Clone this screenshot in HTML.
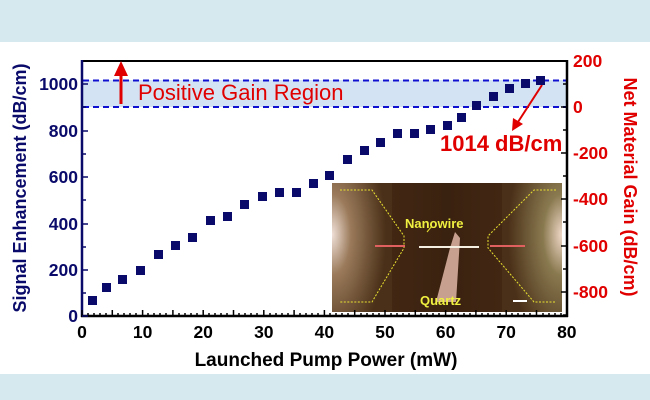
<!DOCTYPE html>
<html><head><meta charset="utf-8"><style>
body{margin:0;width:650px;height:400px;overflow:hidden;background:#fff}
svg{display:block}
text{font-family:"Liberation Sans",Arial,sans-serif;font-weight:bold}
</style></head><body>
<svg width="650" height="400" viewBox="0 0 650 400" xmlns="http://www.w3.org/2000/svg">
<defs>
<radialGradient id="gl" cx="0" cy="0.4" r="0.9"><stop offset="0" stop-color="#f0e0d8"/><stop offset="0.35" stop-color="#9a7a5a"/><stop offset="1" stop-color="#4a3018"/></radialGradient>
<radialGradient id="gr" cx="1" cy="0.4" r="0.9"><stop offset="0" stop-color="#f0d8c8"/><stop offset="0.35" stop-color="#8a7a50"/><stop offset="1" stop-color="#4a3018"/></radialGradient>
<linearGradient id="mid" x1="0" x2="1"><stop offset="0" stop-color="#4a2c16"/><stop offset="0.5" stop-color="#3a2210"/><stop offset="1" stop-color="#4a2c16"/></linearGradient>
</defs>
<rect x="0" y="0" width="650" height="42" fill="#d5e9ef"/>
<rect x="0" y="374" width="650" height="26" fill="#d5e9ef"/>
<rect x="83" y="80" width="484" height="27" fill="#d3e3f3"/>
<line x1="83" y1="80.5" x2="567" y2="80.5" stroke="#1010d0" stroke-width="2" stroke-dasharray="6,4"/>
<line x1="83" y1="107" x2="567" y2="107" stroke="#1010d0" stroke-width="2" stroke-dasharray="6,4"/>
<g>
<rect x="332" y="183" width="230" height="129" fill="url(#mid)"/>
<rect x="332" y="183" width="60" height="129" fill="url(#gl)"/>
<rect x="502" y="183" width="60" height="129" fill="url(#gr)"/>
<polyline points="340,190 372,190 404,236 404,248 372,302 340,302" fill="none" stroke="#e8e030" stroke-width="1" stroke-dasharray="2,1.5"/>
<polyline points="556,190 534,190 488,236 488,248 534,302 556,302" fill="none" stroke="#e8e030" stroke-width="1" stroke-dasharray="2,1.5"/>
<polygon points="436,302 450,248 455,232 460,238 456,302" fill="#c8a090"/>
<line x1="419" y1="247" x2="479" y2="247" stroke="#f4efe0" stroke-width="2"/>
<line x1="375" y1="246" x2="405" y2="246" stroke="#e06060" stroke-width="2"/>
<line x1="490" y1="246" x2="525" y2="246" stroke="#e06060" stroke-width="2"/>
<line x1="427" y1="232" x2="432" y2="226" stroke="#e8e030" stroke-width="1"/>
<text x="405" y="228" font-size="13" fill="#f0f040">Nanowire</text>
<text x="420" y="305" font-size="13" fill="#f0f040">Quartz</text>
<line x1="513" y1="301" x2="527" y2="301" stroke="#fff" stroke-width="2"/>
</g>
<line x1="82" y1="61" x2="567" y2="61" stroke="#000" stroke-width="2"/>
<line x1="82" y1="60" x2="82" y2="317" stroke="#0a0a6a" stroke-width="2.5"/>
<line x1="567" y1="60" x2="567" y2="317" stroke="#000" stroke-width="2.5"/>
<line x1="81" y1="316" x2="568" y2="316" stroke="#000" stroke-width="2.5"/>
<g stroke="#000" stroke-width="1.5">
<path d="M82,316v-6M112.3,316v-6M142.6,316v-6M172.9,316v-6M203.2,316v-6M233.5,316v-6M263.8,316v-6M294.1,316v-6M324.4,316v-6M354.7,316v-6M385,316v-6M415.3,316v-6M445.6,316v-6M475.9,316v-6M506.2,316v-6M536.5,316v-6M566.8,316v-6"/>
<path d="M88,316v-3M94,316v-3M100,316v-3M106,316v-3M118,316v-3M124,316v-3M130,316v-3M136,316v-3M148,316v-3M154,316v-3M160,316v-3M166,316v-3M179,316v-3M185,316v-3M191,316v-3M197,316v-3M209,316v-3M215,316v-3M221,316v-3M227,316v-3M239,316v-3M245,316v-3M251,316v-3M257,316v-3M270,316v-3M276,316v-3M282,316v-3M288,316v-3M300,316v-3M306,316v-3M312,316v-3M318,316v-3M330,316v-3M336,316v-3M342,316v-3M348,316v-3M361,316v-3M367,316v-3M373,316v-3M379,316v-3M391,316v-3M397,316v-3M403,316v-3M409,316v-3M421,316v-3M427,316v-3M433,316v-3M439,316v-3M452,316v-3M458,316v-3M464,316v-3M470,316v-3M482,316v-3M488,316v-3M494,316v-3M500,316v-3M512,316v-3M518,316v-3M524,316v-3M530,316v-3M543,316v-3M549,316v-3M555,316v-3M561,316v-3"/>
</g>
<g stroke="#0a0a6a" stroke-width="1.5">
<path d="M82,316h6M82,270h6M82,224h6M82,177h6M82,131h6M82,84h6M82,293h4M82,247h4M82,200h4M82,154h4M82,107h4"/>
</g>
<g stroke="#000" stroke-width="1.5">
<path d="M567,61h-6M567,107h-6M567,153h-6M567,199h-6M567,246h-6M567,292h-6M567,84h-4M567,130h-4M567,176h-4M567,222h-4M567,269h-4M567,315h-4"/>
</g>
<g font-size="17.5" fill="#0a0a6a" text-anchor="end">
<text x="78" y="322">0</text><text x="78" y="276">200</text><text x="78" y="230">400</text><text x="78" y="183">600</text><text x="78" y="137">800</text><text x="78" y="90">1000</text>
</g>
<g font-size="17.5" fill="#e00000">
<text x="573" y="67">200</text><text x="573" y="113">0</text><text x="573" y="159">-200</text><text x="573" y="205">-400</text><text x="573" y="252">-600</text><text x="573" y="298">-800</text>
</g>
<g font-size="17.5" fill="#000" text-anchor="middle">
<text x="82" y="338">0</text><text x="142.6" y="338">10</text><text x="203.2" y="338">20</text><text x="263.8" y="338">30</text><text x="324.4" y="338">40</text><text x="385" y="338">50</text><text x="445.6" y="338">60</text><text x="506.2" y="338">70</text><text x="566.8" y="338">80</text>
</g>
<text x="326" y="366" font-size="19" fill="#000" text-anchor="middle">Launched Pump Power (mW)</text>
<text transform="translate(26,188) rotate(-90)" font-size="18" fill="#0a0a6a" text-anchor="middle">Signal Enhancement (dB/cm)</text>
<text transform="translate(624,187) rotate(90)" font-size="18" fill="#e00000" text-anchor="middle">Net Material Gain (dB/cm)</text>
<text x="138" y="100" font-size="22" fill="#e00000" style="font-weight:normal">Positive Gain Region</text>
<line x1="121" y1="104" x2="121" y2="74" stroke="#e00000" stroke-width="3"/>
<polygon points="114,76 128,76 121,61" fill="#e00000"/>
<text x="440" y="151" font-size="22" fill="#e00000">1014 dB/cm</text>
<line x1="542" y1="85" x2="518" y2="122" stroke="#e00000" stroke-width="2"/>
<polygon points="512,131 513,118 523,124" fill="#e00000"/>
<g fill="#0a0a6a">
<rect x="88" y="296" width="9" height="9"/>
<rect x="102" y="283" width="9" height="9"/>
<rect x="118" y="275" width="9" height="9"/>
<rect x="136" y="266" width="9" height="9"/>
<rect x="154" y="250" width="9" height="9"/>
<rect x="171" y="241" width="9" height="9"/>
<rect x="188" y="233" width="9" height="9"/>
<rect x="206" y="216" width="9" height="9"/>
<rect x="223" y="212" width="9" height="9"/>
<rect x="240" y="200" width="9" height="9"/>
<rect x="258" y="192" width="9" height="9"/>
<rect x="275" y="188" width="9" height="9"/>
<rect x="292" y="188" width="9" height="9"/>
<rect x="309" y="179" width="9" height="9"/>
<rect x="325" y="171" width="9" height="9"/>
<rect x="343" y="155" width="9" height="9"/>
<rect x="360" y="146" width="9" height="9"/>
<rect x="376" y="138" width="9" height="9"/>
<rect x="393" y="129" width="9" height="9"/>
<rect x="410" y="129" width="9" height="9"/>
<rect x="426" y="125" width="9" height="9"/>
<rect x="443" y="121" width="9" height="9"/>
<rect x="457" y="113" width="9" height="9"/>
<rect x="472" y="101" width="9" height="9"/>
<rect x="489" y="92" width="9" height="9"/>
<rect x="505" y="84" width="9" height="9"/>
<rect x="521" y="79" width="9" height="9"/>
<rect x="536" y="76" width="9" height="9"/>
</g>
</svg>
</body></html>
